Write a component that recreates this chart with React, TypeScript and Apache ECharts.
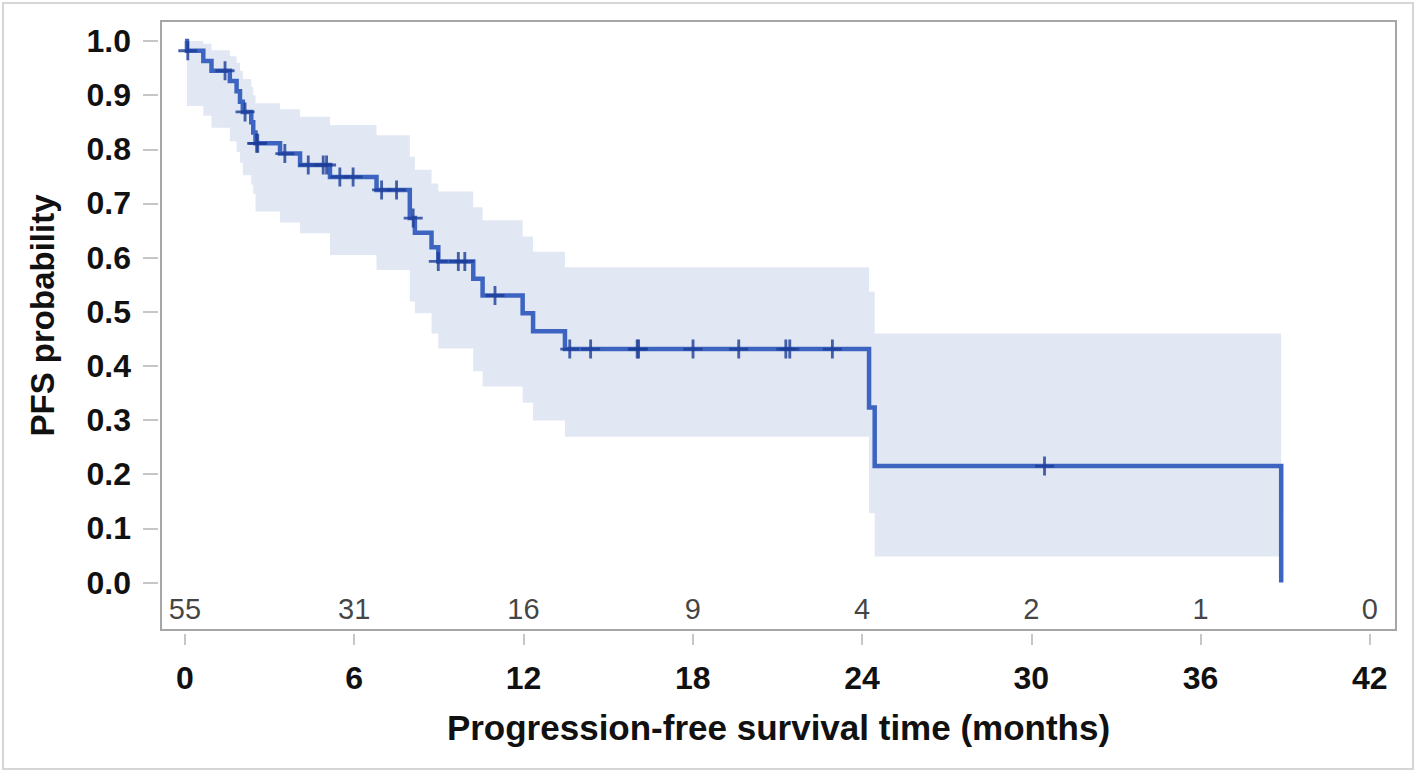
import React, { useEffect, useRef } from "react";
import * as echarts from "echarts";

// Kaplan-Meier step curve (time in months, survival probability after each event)
const curveTimes = [0, 0.07, 0.65, 0.94, 1.59, 1.83, 1.95, 2.05, 2.35, 2.42, 2.5, 3.37, 4.08, 5.14, 6.79, 7.97, 8.15, 8.74, 8.98, 10.22, 10.55, 11.97, 12.34, 13.47, 24.25, 24.45, 38.86];
const curveSurv = [1, 0.982, 0.963, 0.945, 0.926, 0.907, 0.888, 0.869, 0.85, 0.831, 0.811, 0.792, 0.771, 0.749, 0.725, 0.673, 0.646, 0.619, 0.593, 0.561, 0.53, 0.497, 0.464, 0.431, 0.323, 0.215, 0];

// Confidence band (each segment starts at bandTimes[i] and ends at bandTimes[i+1])
const bandTimes = [0.07, 0.65, 0.94, 1.59, 1.83, 1.95, 2.05, 2.35, 2.42, 2.5, 3.37, 4.08, 5.14, 6.79, 7.97, 8.15, 8.74, 8.98, 10.22, 10.55, 11.97, 12.34, 13.47, 24.25, 24.45, 38.86];
const bandLower = [0.88, 0.862, 0.84, 0.815, 0.795, 0.775, 0.752, 0.735, 0.718, 0.685, 0.665, 0.645, 0.605, 0.577, 0.519, 0.497, 0.46, 0.432, 0.39, 0.362, 0.332, 0.299, 0.269, 0.128, 0.048, 0.048];
const bandUpper = [1.0, 0.995, 0.983, 0.972, 0.96, 0.945, 0.93, 0.915, 0.9, 0.885, 0.874, 0.86, 0.845, 0.826, 0.786, 0.762, 0.737, 0.722, 0.693, 0.669, 0.639, 0.611, 0.582, 0.537, 0.46, 0.46];

// Censored observations
const censorTimes = [0.1, 1.42, 2.13, 2.54, 2.58, 3.54, 4.37, 4.9, 5.02, 5.49, 5.96, 6.97, 7.5, 8.09, 8.98, 9.69, 9.92, 10.99, 13.64, 14.38, 16.03, 16.08, 18.01, 19.63, 21.3, 21.44, 22.95, 30.47];
const censorSurv = [0.982, 0.945, 0.869, 0.811, 0.811, 0.792, 0.771, 0.771, 0.771, 0.749, 0.749, 0.725, 0.725, 0.673, 0.593, 0.593, 0.593, 0.53, 0.431, 0.431, 0.431, 0.431, 0.431, 0.431, 0.431, 0.431, 0.431, 0.215];

// Axes
const xTicks = [0, 6, 12, 18, 24, 30, 36, 42];
const yTicks = [0, 0.1, 0.2, 0.3, 0.4, 0.5, 0.6, 0.7, 0.8, 0.9, 1.0];

// Numbers at risk
const atRiskTimes = [0, 6, 12, 18, 24, 30, 36, 42];
const atRiskCounts = [55, 31, 16, 9, 4, 2, 1, 0];

const FONT = "'Liberation Sans', Arial, Helvetica, sans-serif";
const X_MIN = -0.85;
const X_MAX = 42.93;
const Y_MIN = -0.0877;
const Y_MAX = 1.0369;
const AT_RISK_ROW = -0.048; // vertical position of the at-risk row, in axis units

const PLUS = "path://M8.5,0H11.5V20H8.5Z M0,8.5H20V11.5H0Z";

function buildOption() {
  const curve = curveTimes.map((t, i) => [t, curveSurv[i]]);
  const band = bandTimes.map((t, i) => [t, bandLower[i], bandUpper[i]]);
  const censor = censorTimes.map((t, i) => [t, censorSurv[i]]);
  const atRisk = atRiskTimes.map((t, i) => [t, AT_RISK_ROW, atRiskCounts[i]]);

  return {
    animation: false,
    backgroundColor: "#ffffff",
    grid: {
      left: 161,
      top: 21,
      right: 22,
      bottom: 144,
      show: true,
      borderColor: "#a6a6a6",
      borderWidth: 2,
      backgroundColor: "transparent",
    },
    graphic: [
      {
        type: "rect",
        shape: { x: 3, y: 3, width: 1410, height: 766 },
        style: { fill: "none", stroke: "#d6d6d6", lineWidth: 2 },
        silent: true,
      },
    ],
    xAxis: {
      type: "value",
      min: X_MIN,
      max: X_MAX,
      offset: 4,
      axisLine: { show: false, onZero: false },
      splitLine: { show: false },
      axisTick: {
        show: true,
        length: 11,
        customValues: xTicks,
        lineStyle: { color: "#c6c6c6", width: 2 },
      },
      axisLabel: {
        customValues: xTicks,
        margin: 28,
        fontFamily: FONT,
        fontWeight: "bold",
        fontSize: 32,
        color: "#111111",
        formatter: (v: number) => String(v),
      },
      name: "Progression-free survival time (months)",
      nameLocation: "middle",
      nameGap: 76,
      nameTextStyle: {
        fontFamily: FONT,
        fontWeight: "bold",
        fontSize: 35,
        color: "#111111",
      },
    },
    yAxis: {
      type: "value",
      min: Y_MIN,
      max: Y_MAX,
      offset: 3,
      axisLine: { show: false, onZero: false },
      splitLine: { show: false },
      axisTick: {
        show: true,
        length: 15,
        customValues: yTicks,
        lineStyle: { color: "#c6c6c6", width: 2 },
      },
      axisLabel: {
        customValues: yTicks,
        margin: 27,
        fontFamily: FONT,
        fontWeight: "bold",
        fontSize: 32,
        color: "#111111",
        formatter: (v: number) => v.toFixed(1),
      },
      name: "PFS probability",
      nameLocation: "middle",
      nameGap: 99,
      nameTextStyle: {
        fontFamily: FONT,
        fontWeight: "bold",
        fontSize: 33,
        color: "#111111",
        padding: [0, 0, 0, 20],
      },
    },
    series: [
      {
        name: "confidence band",
        type: "custom",
        data: band,
        encode: { x: 0, y: [1, 2] },
        clip: true,
        silent: true,
        z: 1,
        renderItem: (params: any, api: any) => {
          if (params.dataIndex !== 0) return null;
          const pts: number[][] = [];
          for (let i = 0; i < band.length - 1; i++) {
            pts.push(api.coord([band[i][0], band[i][2]]));
            pts.push(api.coord([band[i + 1][0], band[i][2]]));
          }
          for (let i = band.length - 2; i >= 0; i--) {
            pts.push(api.coord([band[i + 1][0], band[i][1]]));
            pts.push(api.coord([band[i][0], band[i][1]]));
          }
          return {
            type: "polygon",
            shape: { points: pts },
            style: { fill: "#e1e8f3", stroke: "none" },
          };
        },
      },
      {
        name: "survival",
        type: "line",
        data: curve,
        step: "end",
        symbol: "none",
        lineStyle: { color: "#3c64c0", width: 4.5, cap: "butt", join: "miter" },
        z: 3,
      },
      {
        name: "censored",
        type: "scatter",
        data: censor,
        symbol: PLUS,
        symbolSize: 19,
        itemStyle: { color: "#1b3c96" },
        z: 4,
      },
      {
        name: "at risk",
        type: "scatter",
        data: atRisk,
        symbol: "circle",
        symbolSize: 0,
        silent: true,
        itemStyle: { color: "#111111" },
        label: {
          show: true,
          position: "inside",
          fontFamily: FONT,
          fontSize: 29,
          color: "#111111",
          textBorderWidth: 0,
          formatter: (p: any) => String(p.value[2]),
        },
        z: 5,
      },
    ],
  };
}

export default function App() {
  const ref = useRef<HTMLDivElement>(null);
  useEffect(() => {
    if (!ref.current) return;
    const chart = echarts.init(ref.current, null, { renderer: "svg" });
    chart.setOption(buildOption() as any);
    return () => {
      chart.dispose();
    };
  }, []);
  return (
    <div
      ref={ref}
      style={{
        position: "fixed",
        left: 0,
        top: 0,
        width: 1418,
        height: 774,
        background: "#ffffff",
      }}
    />
  );
}
